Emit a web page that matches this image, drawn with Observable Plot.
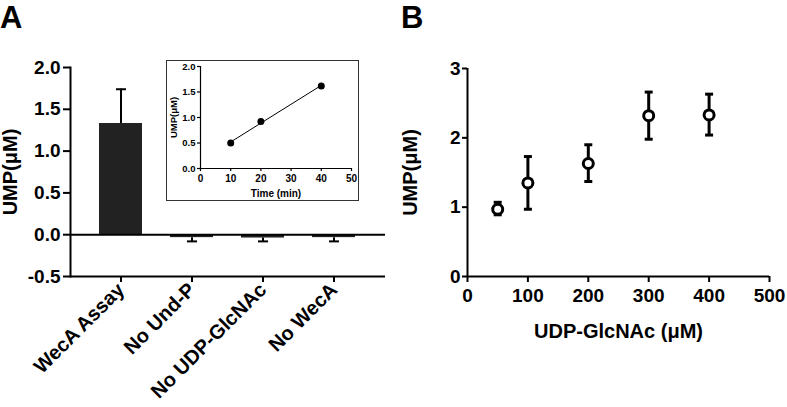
<!DOCTYPE html>
<html><head><meta charset="utf-8">
<script src="https://cdn.jsdelivr.net/npm/d3@7"></script>
<script src="https://cdn.jsdelivr.net/npm/@observablehq/plot@0.6"></script>
<style>
body{margin:0;background:#fff;}
#root{position:relative;width:787px;height:407px;overflow:hidden;font-family:Arial,"Liberation Sans",sans-serif;background:#fff;}
.panel{position:absolute;}
.tag{position:absolute;font-weight:bold;font-size:31px;line-height:1;color:#000;}
#insetFrame{position:absolute;left:166px;top:60px;width:193px;height:141px;box-sizing:border-box;border:1.5px solid #333;background:#fff;}
</style></head>
<body><div id="root">
<div class="tag" style="left:0px;top:2px">A</div>
<div class="tag" style="left:401px;top:2px">B</div>
<div class="panel" id="pA" style="left:0;top:0;width:400px;height:407px"></div>
<div id="insetFrame"></div>
<div class="panel" id="pInset" style="left:166px;top:60px;width:193px;height:141px"></div>
<div class="panel" id="pB" style="left:400px;top:0;width:387px;height:407px"></div>
</div>
<script>
// Panel A: bar chart
const categories = ["WecA Assay", "No Und-P", "No UDP-GlcNAc", "No WecA"];
const meansA = [1.33, -0.035, -0.04, -0.035];
const errorTipsA = [1.74, -0.08, -0.08, -0.08];
const yTicksA = [-0.5, 0, 0.5, 1, 1.5, 2];

// Inset: time course
const insetTime = [10, 20, 40];
const insetUMP = [0.50, 0.92, 1.62];
const insetXTicks = [0, 10, 20, 30, 40, 50];
const insetYTicks = [0, 0.5, 1, 1.5, 2];

// Panel B: UDP-GlcNAc dependence
const udp = [50, 100, 200, 300, 400];
const umpB = [0.97, 1.35, 1.63, 2.32, 2.33];
const umpBLow = [0.89, 0.97, 1.37, 1.98, 2.04];
const umpBHigh = [1.07, 1.73, 1.90, 2.66, 2.63];
const xTicksB = [0, 100, 200, 300, 400, 500];
const yTicksB = [0, 1, 2, 3];

const FONT = "Arial, 'Liberation Sans', sans-serif";
const capSymbol = w => ({draw(ctx) { ctx.moveTo(-w, 0); ctx.lineTo(w, 0); }});

const dataA = categories.map((c, i) => ({cat: c, mean: meansA[i], tip: errorTipsA[i]}));
const plotA = Plot.plot({
  width: 400, height: 407,
  marginLeft: 70, marginRight: 15, marginTop: 67, marginBottom: 131,
  style: {fontFamily: FONT, fontWeight: "bold", fontSize: "19px", color: "#000", background: "transparent", overflow: "visible"},
  x: {domain: categories, padding: 0.39, align: 0.5},
  y: {domain: [-0.5, 2]},
  marks: [
    Plot.barY(dataA, {x: "cat", y: "mean", fill: "#222"}),
    Plot.ruleX(dataA, {x: "cat", y1: "mean", y2: "tip", stroke: "#000", strokeWidth: 2}),
    Plot.dot(dataA, {x: "cat", y: "tip", symbol: capSymbol(5), fill: "none", stroke: "#000", strokeWidth: 2}),
    Plot.ruleY([0], {stroke: "#000", strokeWidth: 2}),
    Plot.ruleY([-0.5], {stroke: "#000", strokeWidth: 2}),
    Plot.frame({anchor: "left", stroke: "#000", strokeWidth: 2}),
    Plot.axisY({ticks: yTicksA, tickFormat: d => d.toFixed(1), tickSize: 7, tickPadding: 3, strokeWidth: 2, label: null}),
    Plot.axisY({ticks: [], tickSize: 0, label: "UMP(μM)", labelAnchor: "center", labelArrow: "none", labelOffset: 68, fontSize: 20}),
    Plot.axisX({tickRotate: -45, tickSize: 6, tickPadding: 4, strokeWidth: 2, label: null, fontSize: 20})
  ]
});
document.getElementById("pA").appendChild(plotA);

const dataInset = insetTime.map((t, i) => ({t, u: insetUMP[i]}));
const plotInset = Plot.plot({
  width: 193, height: 141,
  marginLeft: 34, marginRight: 8, marginTop: 6, marginBottom: 33,
  style: {fontFamily: FONT, fontWeight: "bold", fontSize: "9.5px", color: "#000", background: "transparent", overflow: "visible"},
  x: {domain: [0, 50]},
  y: {domain: [0, 2]},
  marks: [
    Plot.ruleX([0], {stroke: "#000", strokeWidth: 1.2}),
    Plot.ruleY([0], {stroke: "#000", strokeWidth: 1.2}),
    Plot.linearRegressionY(dataInset, {x: "t", y: "u", ci: 0, stroke: "#000", strokeWidth: 1}),
    Plot.dot(dataInset, {x: "t", y: "u", r: 3.5, fill: "#000", stroke: "none"}),
    Plot.axisX({ticks: insetXTicks, tickSize: 3, tickPadding: 3, strokeWidth: 1.2,
      label: "Time (min)", labelAnchor: "center", labelArrow: "none", labelOffset: 28, fontSize: 10}),
    Plot.axisY({ticks: insetYTicks, tickFormat: d => d.toFixed(1), tickSize: 3, tickPadding: 2, strokeWidth: 1.2,
      label: "UMP(μM)", labelAnchor: "center", labelArrow: "none", labelOffset: 30})
  ]
});
document.getElementById("pInset").appendChild(plotInset);

const dataB = udp.map((x, i) => ({x, y: umpB[i], lo: umpBLow[i], hi: umpBHigh[i]}));
const plotB = Plot.plot({
  width: 387, height: 407,
  marginLeft: 67, marginRight: 18, marginTop: 68, marginBottom: 131,
  style: {fontFamily: FONT, fontWeight: "bold", fontSize: "19px", color: "#000", background: "transparent", overflow: "visible"},
  x: {domain: [0, 500]},
  y: {domain: [0, 3]},
  marks: [
    Plot.ruleY([0], {stroke: "#000", strokeWidth: 2}),
    Plot.ruleX([0], {stroke: "#000", strokeWidth: 2}),
    Plot.ruleX(dataB, {x: "x", y1: "lo", y2: "hi", stroke: "#000", strokeWidth: 3}),
    Plot.dot(dataB, {x: "x", y: "lo", symbol: capSymbol(4), fill: "none", stroke: "#000", strokeWidth: 3}),
    Plot.dot(dataB, {x: "x", y: "hi", symbol: capSymbol(4), fill: "none", stroke: "#000", strokeWidth: 3}),
    Plot.dot(dataB, {x: "x", y: "y", r: 5, fill: "#fff", stroke: "#000", strokeWidth: 3}),
    Plot.axisX({ticks: xTicksB, tickFormat: d => String(d), tickSize: 6, tickPadding: 6, strokeWidth: 2, label: null}),
    Plot.axisX({ticks: [], tickSize: 0, label: "UDP-GlcNAc (μM)", labelAnchor: "center", labelArrow: "none", labelOffset: 61, fontSize: 20}),
    Plot.axisY({ticks: yTicksB, tickFormat: d => String(d), tickSize: 5, tickPadding: 2, strokeWidth: 2, label: null}),
    Plot.axisY({ticks: [], tickSize: 0, label: "UMP(μM)", labelAnchor: "center", labelArrow: "none", labelOffset: 65, fontSize: 20})
  ]
});
document.getElementById("pB").appendChild(plotB);
</script>
</body></html>
